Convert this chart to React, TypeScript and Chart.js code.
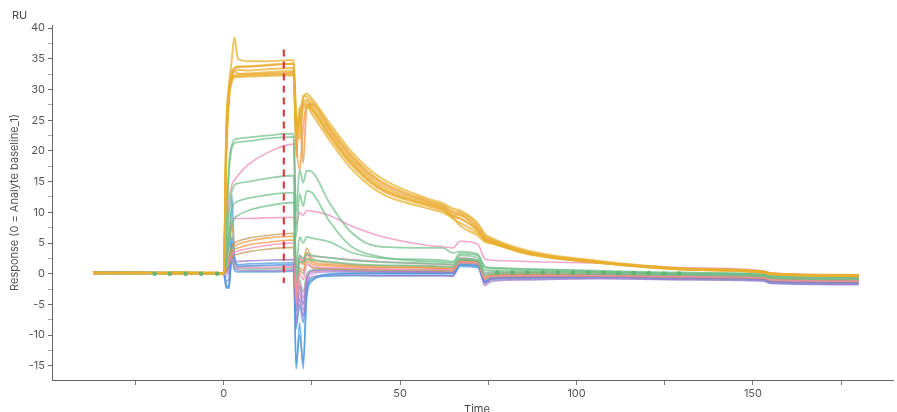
import React, { useEffect, useRef } from "react";
import { Chart, registerables } from "chart.js";
Chart.register(...registerables);

// time points (s)
const T = [-37, -25, -12, -2, 0, 0.7, 1.5, 2.3, 3, 4, 7, 12, 19.8, 20.5, 21.5, 22.5, 23.5, 25, 30, 36, 44, 58, 62, 65, 67, 72, 74, 76, 86, 106, 130, 153, 155, 180];

// yellow / orange (high response)
const Y1 = [0.2, 0.1, 0.2, 0.1, 0, 24, 31, 35, 38.5, 35, 34.6, 34.6, 34.8, 26, 23, 28.5, 29.3, 28.5, 24.5, 20, 15.8, 12.2, 11.5, 10.6, 10.3, 8.2, 6.5, 5.8, 3.8, 2.1, 0.9, 0.4, 0.1, -0.2];
const Y2 = [0.1, 0.2, 0.1, 0.2, 0, 22, 30, 33, 33.5, 33.8, 33.8, 34, 34.2, 24, 25, 29, 28.8, 28, 24, 19.5, 15.3, 11.9, 11.2, 10.2, 10.0, 7.9, 6.2, 5.6, 3.6, 2.0, 0.8, 0.3, 0, -0.3];
const Y3 = [0.2, 0.1, 0.2, 0, 0, 20, 29, 32, 33, 33.2, 33.1, 33.3, 33.5, 25, 22, 28, 28.3, 27.4, 23.3, 18.8, 14.6, 11.5, 10.8, 9.6, 9.5, 7.2, 5.8, 5.3, 3.4, 1.9, 0.8, 0.3, 0, -0.3];
const Y4 = [0.1, 0.2, 0.1, 0.1, 0, 21, 29.5, 31.5, 32.2, 32.5, 32.6, 32.8, 33, 23, 26, 27.5, 27.6, 26.6, 22.3, 17.8, 13.8, 11.0, 10.3, 9.0, 8.3, 6.6, 5.4, 5.0, 3.3, 1.8, 0.7, 0.2, -0.1, -0.4];
const Y5 = [0.2, 0.1, 0, 0.1, 0, 23, 30, 32, 32.2, 32.2, 32.3, 32.4, 32.5, 25, 24, 27, 27.2, 26, 21.7, 17.2, 13.3, 10.6, 10.0, 9.0, 7.8, 6.2, 5.2, 4.9, 3.2, 1.8, 0.7, 0.2, -0.1, -0.4];
const Y6 = [0, 0.1, 0.1, 0.1, 0, 19, 28.5, 31.2, 32, 32, 32.1, 32.2, 32.3, 22, 27, 27.4, 28, 27, 22.9, 18.4, 14.2, 11.3, 10.6, 9.4, 9.0, 7.0, 5.6, 5.2, 3.4, 1.9, 0.8, 0.3, 0, -0.3];
const O1 = [0.1, 0.1, 0.2, 0.1, 0, 20, 29, 32, 33, 32.6, 32.5, 32.6, 32.7, 22, 17, 24, 27.4, 26.8, 22.6, 18.1, 14.0, 11.2, 10.5, 9.3, 9.0, 7.0, 5.6, 5.1, 3.3, 1.8, 0.7, 0.2, 0, -0.3];
const O1B = [0.2, 0.2, 0.1, 0.2, 0, 21, 29.5, 32.5, 33.4, 33.6, 33.7, 33.9, 34.2, 19, 26, 18, 27, 27.6, 23.6, 19.2, 15.0, 11.7, 11.0, 9.9, 9.7, 7.5, 5.9, 5.4, 3.5, 1.9, 0.8, 0.3, 0, -0.3];

// green
const G1 = [0.2, 0.1, 0.2, 0.1, 0, 8, 18, 21, 21.8, 22, 22.2, 22.5, 22.8, 10, 17, 14.8, 16.8, 16.6, 11.5, 6.8, 4.4, 4.2, 4.2, 3.4, 3.6, 3.2, 1.0, 0.9, 0.7, 0.4, 0.1, -0.1, -0.3, -0.5];
const G2 = [0.1, 0.2, 0.1, 0.1, 0, 7, 17, 20.5, 21.2, 21.4, 21.6, 22, 22.3, 6, 13, 11, 13.5, 13.2, 8.5, 4.5, 2.8, 2.0, 1.9, 1.8, 3.0, 2.6, 0.6, 0.6, 0.5, 0.3, 0, -0.2, -0.5, -0.7];
const G3 = [0.1, 0.1, 0.2, 0, 0, 3, 10, 13.5, 14.4, 14.7, 15, 15.5, 16, 1, 6, 5, 6, 5.8, 5.2, 3.5, 2.6, 2.3, 2.2, 2.0, 3.3, 3.0, 1.2, 1.0, 0.8, 0.5, 0.2, 0, -0.3, -0.5];
const G4 = [0, 0.1, 0.1, 0.1, 0, 2, 7, 10.5, 11.5, 11.8, 12.3, 12.8, 13.2, 0, 3, 2.5, 3.2, 3.0, 2.6, 2.2, 1.9, 1.7, 1.6, 1.5, 2.5, 2.2, 0.2, 0.3, 0.3, 0.2, 0, -0.2, -0.5, -0.7];
const G5 = [0.1, 0, 0.1, 0.1, 0, 1.5, 5, 8, 9, 9.5, 10.3, 11, 11.6, -1, 2, 1.8, 2.4, 2.2, 2.0, 1.6, 1.4, 1.3, 1.2, 1.1, 2.3, 2.0, -0.2, 0, 0.1, 0, -0.2, -0.4, -0.7, -0.9];

// pink
const P1 = [0.1, 0.1, 0.2, 0.1, 0, 6, 12, 14.5, 15.2, 16, 17.8, 19.6, 21.1, 8, 10, 9.5, 10.3, 10.2, 9.5, 7.8, 6.2, 4.6, 4.4, 4.2, 5.3, 4.8, 2.4, 2.2, 2.0, 1.7, 1.0, 0.5, 0.1, -0.2];
const P2 = [0, 0.1, 0.1, 0, 0, 3, 7, 8.4, 9, 9, 9, 9.1, 9.2, -3, 3, 2, 3, 2.9, 2.6, 2.3, 2.0, 1.6, 1.5, 1.4, 2.6, 2.2, 0.0, 0.2, 0.2, 0.1, -0.1, -0.3, -0.6, -0.8];
const P3 = [0.1, 0.2, 0.1, 0.2, 0, 1, 2, 3, 3.5, 3.7, 4.1, 4.6, 5.0, -5, 0, -1, 1.5, 1.2, 1.0, 0.9, 0.8, 0.7, 0.7, 0.6, 1.9, 1.7, -0.8, -0.4, -0.3, -0.3, -0.5, -0.7, -1.0, -1.2];

// brown / orange mid band
const B1 = [0.1, 0.2, 0.1, 0.1, 0, 1, 3, 4.5, 5, 5.3, 5.8, 6.2, 6.6, -2, 2.5, 2, 4.2, 2.5, 1.8, 1.5, 1.3, 1.2, 1.1, 1.0, 2.2, 2.0, -0.4, -0.1, 0, -0.1, -0.3, -0.5, -0.8, -1.0];
const O2 = [0.2, 0.1, 0.2, 0.1, 0, 2, 5, 8.4, 4.5, 4.8, 5.3, 5.8, 6.1, -3, 2, 1.5, 3.5, 2.0, 1.5, 1.3, 1.1, 1.0, 0.9, 0.8, 2.0, 1.8, -0.6, -0.2, -0.1, -0.2, -0.4, -0.6, -0.9, -1.1];
const O3 = [0.1, 0.1, 0, 0.1, 0, 1, 2.5, 3.5, 4, 4.2, 4.7, 5.1, 5.5, -4, 1, 0.5, 2.5, 1.6, 1.3, 1.1, 1.0, 0.9, 0.8, 0.7, 2.1, 1.9, -0.7, -0.3, -0.2, -0.2, -0.4, -0.6, -0.9, -1.1];
const B2 = [0, 0.1, 0.1, 0.1, 0, 0.5, 1.5, 2.5, 3, 3.2, 3.6, 4.0, 4.3, -4, 0.5, 0, 2.0, 1.0, 0.8, 0.7, 0.6, 0.6, 0.5, 0.5, 1.8, 1.6, -0.9, -0.5, -0.4, -0.4, -0.6, -0.8, -1.1, -1.3];

// low band
const L1 = [0.1, 0, 0.1, 0, 0, 0.5, 1.2, 3, 2.2, 2, 2.1, 2.2, 2.3, -6, -2, -5, -1, 0.5, 0.6, 0.5, 0.4, 0.3, 0.3, 0.2, 2.2, 1.8, -1.5, -0.8, -0.6, -0.5, -0.7, -0.9, -1.3, -1.5];
const L2 = [0.3, 0.2, 0.2, 0.1, 0, -2.4, -1.5, 12.8, 3, 1.5, 1.6, 1.7, 1.8, -15.5, -8, -15.5, -3, -1, 0, 0.1, 0.1, 0.1, 0.1, 0.1, 1.5, 1.3, -1.2, -0.6, -0.5, -0.4, -0.6, -0.8, -1.2, -1.4];
const L3 = [0.2, 0.3, 0.1, 0.1, 0, -1.8, -2.2, 6, 2.5, 1.2, 1.3, 1.4, 1.5, -15, -10, -14.5, -4, -1.2, -0.2, 0, 0, 0, 0, 0, 1.4, 1.2, -1.3, -0.7, -0.6, -0.5, -0.7, -0.9, -1.3, -1.5];
const L4 = [0.1, 0.1, 0, 0.1, 0, -0.5, 0.5, 2.5, 1.8, 1.2, 1.2, 1.3, 1.3, -7, -3, -6, -1.5, 0, 0.3, 0.3, 0.2, 0.2, 0.2, 0.1, 1.9, 1.6, -1.6, -0.9, -0.7, -0.6, -0.8, -1.0, -1.4, -1.6];
const L5 = [0.2, 0.1, 0.1, 0.1, 0, 0, 1, 4, 1.5, 1, 1, 1, 1.1, -5, -1.5, -4, -0.5, 0.3, 0.4, 0.4, 0.3, 0.3, 0.3, 0.2, 2.0, 1.7, -1.1, -0.5, -0.4, -0.3, -0.5, -0.7, -1.0, -1.2];
const L6 = [0.3, 0.2, 0.1, 0.1, 0, 0.2, 1, 5, 1.2, 0.9, 0.8, 0.8, 0.9, -4, -1, -3, 0, 0.6, 0.8, 0.7, 0.6, 0.5, 0.5, 0.4, 2.4, 2.0, -0.9, -0.3, -0.2, -0.2, -0.4, -0.6, -0.9, -1.1];
const L7 = [0, 0.1, 0, 0.1, 0, -1.2, -0.8, 2, 1, 0.6, 0.5, 0.5, 0.6, -8, -4, -7, -2, -0.5, -0.2, -0.2, -0.3, -0.3, -0.3, -0.4, 1.6, 1.4, -1.9, -1.2, -1.0, -0.8, -1.0, -1.2, -1.6, -1.8];
const L8 = [0.2, 0.1, 0.1, 0, 0, -2, -2.4, 3, 0.5, 0.3, 0.3, 0.3, 0.4, -9, -5, -8, -2.5, -0.8, -0.4, -0.3, -0.3, -0.3, -0.3, -0.3, 1.2, 1.0, -1.4, -0.9, -0.8, -0.7, -0.9, -1.1, -1.5, -1.7];

// green sampled markers
const DOT_T = [-19.6, -15.3, -10.8, -6.4, -1.9, 77.5, 81.8, 86.1, 90.4, 94.7, 99, 103.3, 107.6, 111.9, 116.2, 120.5, 124.8, 129.1];
const DOT_V = [0, 0, 0, 0, 0, 0.2, 0.2, 0.2, 0.2, 0.2, 0.15, 0.15, 0.15, 0.1, 0.1, 0.1, 0.05, 0.05];

// reference marker
const REF_T = 17;
const REF_Y = [36.5, -1.5];

const Y_TICKS = [-15, -12.5, -10, -7.5, -5, -2.5, 0, 2.5, 5, 7.5, 10, 12.5, 15, 17.5, 20, 22.5, 25, 27.5, 30, 32.5, 35, 37.5, 40];
const X_TICKS = [-25, 0, 25, 50, 75, 100, 125, 150, 175];

const YEL = "rgba(232,176,48,0.75)";
const ORA = "rgba(242,150,60,0.75)";
const GRN = "rgba(110,190,135,0.7)";
const PNK = "rgba(236,140,185,0.75)";
const BRN = "rgba(190,150,80,0.7)";
const BLU = "rgba(80,155,220,0.75)";
const PUR = "rgba(150,115,200,0.7)";
const LAV = "rgba(175,150,215,0.7)";

const SERIES: [number[], string, number][] = [
  [Y1, YEL, 2], [Y2, YEL, 2], [Y3, YEL, 2], [Y4, YEL, 2], [Y5, YEL, 2], [Y6, YEL, 2], [O1, ORA, 1.8], [O1B, ORA, 1.8],
  [G1, GRN, 1.8], [G2, GRN, 1.8], [G3, GRN, 1.8], [G4, GRN, 1.8], [G5, GRN, 1.8],
  [P1, PNK, 1.6], [P2, PNK, 1.6], [P3, PNK, 1.6],
  [B1, BRN, 1.6], [O2, ORA, 1.6], [O3, ORA, 1.6], [B2, BRN, 1.6],
  [L1, PUR, 1.6], [L2, BLU, 1.6], [L3, BLU, 1.6], [L4, LAV, 1.6], [L5, PNK, 1.6], [L6, GRN, 1.6], [L7, PUR, 1.6], [L8, BLU, 1.6],
];

const FONT = "Inter, 'Liberation Sans', sans-serif";

const textPlugin = {
  id: "extraText",
  afterDraw(chart: any) {
    const c = chart.ctx;
    c.save();
    c.fillStyle = "#444";
    c.font = `11px ${FONT}`;
    c.textAlign = "left";
    c.textBaseline = "middle";
    c.fillText("RU", 12, 16);
    c.textAlign = "center";
    c.textBaseline = "top";
    c.fillText("Time", 477, 404);
    c.restore();
  },
};

export default function App() {
  const ref = useRef<HTMLCanvasElement>(null);
  useEffect(() => {
    document.body.style.margin = "0";
    const datasets: any[] = [];
    datasets.push({
      label: "ref",
      data: REF_Y.map((y) => ({ x: REF_T, y })),
      borderColor: "#e8262b",
      borderWidth: 2,
      borderDash: [7, 5],
      pointRadius: 0,
      order: -2,
    });
    datasets.push({
      label: "dots",
      data: DOT_T.map((t, j) => ({ x: t, y: DOT_V[j] })),
      showLine: false,
      pointRadius: 2.3,
      pointBackgroundColor: "rgba(95,180,115,0.95)",
      pointBorderWidth: 0,
      order: -1,
    });
    SERIES.forEach(([vals, color, w], i) => {
      datasets.push({
        label: "s" + i,
        data: T.map((t, j) => ({ x: t, y: vals[j] })),
        borderColor: color,
        borderWidth: w,
        pointRadius: 0,
        cubicInterpolationMode: "monotone",
        order: i,
      });
    });
    const chart = new Chart(ref.current!, {
      type: "line",
      data: { datasets },
      options: {
        animation: false,
        responsive: true,
        maintainAspectRatio: false,
        layout: { padding: { left: 0, right: 0, top: 25, bottom: 0 } },
        plugins: { legend: { display: false }, tooltip: { enabled: false } },
        scales: {
          x: {
            type: "linear",
            min: -48.7,
            max: 189.7,
            afterBuildTicks: (s: any) => {
              s.ticks = X_TICKS.map((v) => ({ value: v }));
            },
            afterFit: (s: any) => {
              s.height = 32;
            },
            ticks: {
              autoSkip: false,
              maxRotation: 0,
              padding: 2,
              color: "#555",
              font: { family: FONT, size: 11 },
              callback: (v: any) => (Number(v) % 50 === 0 ? String(v) : ""),
            },
            grid: {
              drawOnChartArea: false,
              tickLength: 5,
              tickColor: "#777",
            },
            border: { color: "#666", width: 1 },
          },
          y: {
            type: "linear",
            min: -17.3,
            max: 40.5,
            afterBuildTicks: (s: any) => {
              s.ticks = Y_TICKS.map((v) => ({ value: v }));
            },
            afterFit: (s: any) => {
              s.width = 52;
            },
            ticks: {
              autoSkip: false,
              padding: 3,
              color: "#555",
              font: { family: FONT, size: 11 },
              callback: (v: any) => (Number(v) % 5 === 0 ? String(v) : ""),
            },
            grid: {
              drawOnChartArea: false,
              tickLength: 4,
              tickColor: (ctx: any) => (ctx.tick && ctx.tick.value % 5 === 0 ? "#666" : "#aaa"),
            },
            border: { color: "#666", width: 1 },
            title: {
              display: true,
              text: "Response (0 = Analyte baseline_1)",
              color: "#555",
              font: { family: FONT, size: 11 },
              padding: { top: 8, bottom: 0 },
            },
          },
        },
      },
      plugins: [textPlugin],
    });
    return () => chart.destroy();
  }, []);
  return (
    <div style={{ width: 897, height: 412, position: "relative" }}>
      <canvas ref={ref} />
    </div>
  );
}
